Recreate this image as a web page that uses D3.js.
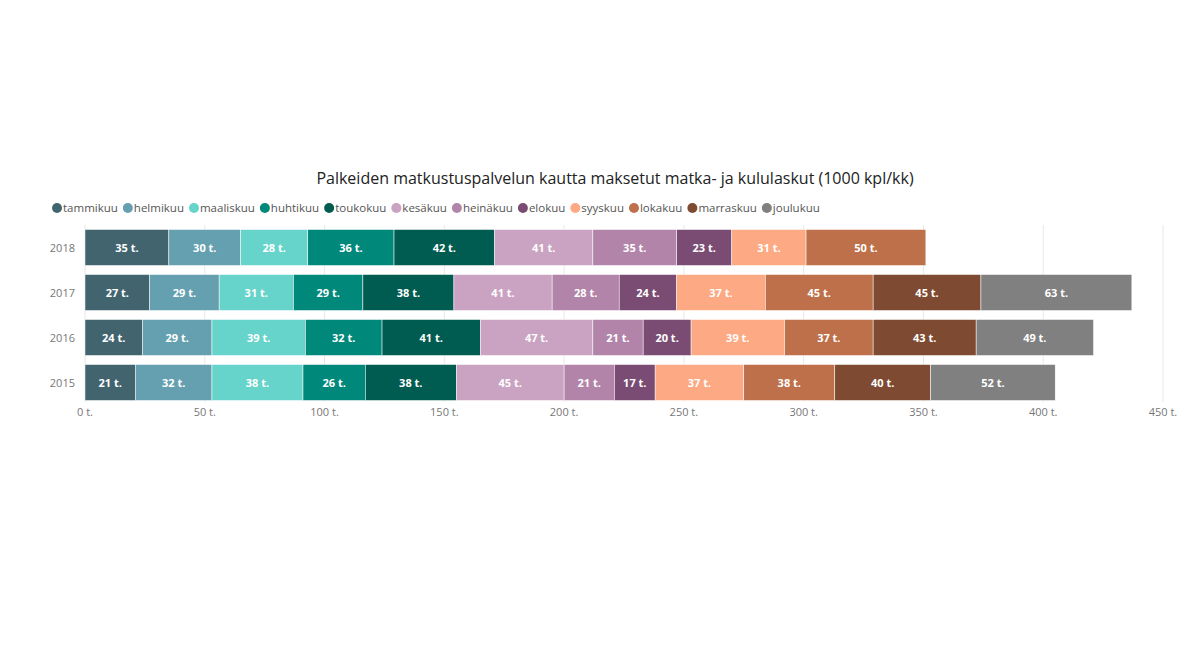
<!DOCTYPE html>
<html><head><meta charset="utf-8">
<script src="https://cdn.jsdelivr.net/npm/d3@7"></script>
<style>
body { margin: 0; background: #fff; }
text { font-family: "Open Sans", "Noto Sans", sans-serif; }
</style></head>
<body><div id="chart"></div>
<script>
const years = ['2018', '2017', '2016', '2015'];
const months = ['tammikuu', 'helmikuu', 'maaliskuu', 'huhtikuu', 'toukokuu', 'kesäkuu',
  'heinäkuu', 'elokuu', 'syyskuu', 'lokakuu', 'marraskuu', 'joulukuu'];
const colors = ['#41646f', '#65a0b0', '#66d4ca', '#00897b', '#005c50', '#c9a3c1',
  '#b384aa', '#7a4c74', '#fda983', '#be704a', '#7f4a32', '#808080'];
const v2018 = [35, 30, 28, 36, 42, 41, 35, 23, 31, 50, 0, 0];
const v2017 = [27, 29, 31, 29, 38, 41, 28, 24, 37, 45, 45, 63];
const v2016 = [24, 29, 39, 32, 41, 47, 21, 20, 39, 37, 43, 49];
const v2015 = [21, 32, 38, 26, 38, 45, 21, 17, 37, 38, 40, 52];
const xTicks = [0, 50, 100, 150, 200, 250, 300, 350, 400, 450];

const values = { 2018: v2018, 2017: v2017, 2016: v2016, 2015: v2015 };
const W = 1204, H = 669;
const svg = d3.select('#chart').append('svg').attr('width', W).attr('height', H);

const x = d3.scaleLinear().domain([0, 450]).range([85, 1163]);
const y = d3.scaleBand().domain(years).range([225, 405]).paddingInner(0.2).paddingOuter(0.1);
const color = d3.scaleOrdinal().domain(months).range(colors);

// gridlines + x axis labels
svg.append('g').selectAll('line').data(xTicks).join('line')
  .attr('x1', (d) => x(d)).attr('x2', (d) => x(d))
  .attr('y1', 225).attr('y2', 402)
  .attr('stroke', '#e8e8e8');
svg.append('g').selectAll('text').data(xTicks).join('text')
  .attr('x', (d) => x(d)).attr('y', 416)
  .attr('text-anchor', 'middle')
  .attr('font-size', 11).attr('fill', '#777')
  .text((d) => `${d} t.`);

// year labels
svg.append('g').selectAll('text').data(years).join('text')
  .attr('x', 75).attr('y', (d) => y(d) + y.bandwidth() / 2 + 4)
  .attr('text-anchor', 'end')
  .attr('font-size', 11).attr('fill', '#777')
  .text((d) => d);

// stacked segments
const segs = [];
years.forEach((yr) => {
  let acc = 0;
  values[yr].forEach((v, i) => {
    if (v > 0) segs.push({ yr, month: months[i], x0: acc, x1: acc + v, v });
    acc += v;
  });
});

svg.append('g').selectAll('rect').data(segs).join('rect')
  .attr('x', (d) => x(d.x0)).attr('width', (d) => x(d.x1) - x(d.x0))
  .attr('y', (d) => y(d.yr)).attr('height', y.bandwidth())
  .attr('fill', (d) => color(d.month))
  .attr('stroke', '#fff').attr('stroke-width', 0.5);

svg.append('g').selectAll('text').data(segs).join('text')
  .attr('x', (d) => (x(d.x0) + x(d.x1)) / 2)
  .attr('y', (d) => y(d.yr) + y.bandwidth() / 2 + 4)
  .attr('text-anchor', 'middle')
  .attr('font-family', '"DejaVu Sans Condensed", sans-serif')
  .attr('font-weight', 'bold').attr('font-size', 11).attr('fill', '#fff')
  .text((d) => `${d.v} t.`);

// title
svg.append('text').attr('x', 615).attr('y', 184)
  .attr('text-anchor', 'middle').attr('font-size', 16).attr('fill', '#222')
  .text('Palkeiden matkustuspalvelun kautta maksetut matka- ja kululaskut (1000 kpl/kk)');

// legend
const legend = svg.append('g');
let lx = 52;
months.forEach((m) => {
  const g = legend.append('g').attr('transform', `translate(${lx},208)`);
  g.append('circle').attr('cx', 5).attr('cy', 0).attr('r', 5).attr('fill', color(m));
  const t = g.append('text').attr('x', 11).attr('y', 4)
    .attr('font-size', 11.5).attr('fill', '#555').text(m);
  lx += 11 + t.node().getComputedTextLength() + 5;
});
</script>
</body></html>
